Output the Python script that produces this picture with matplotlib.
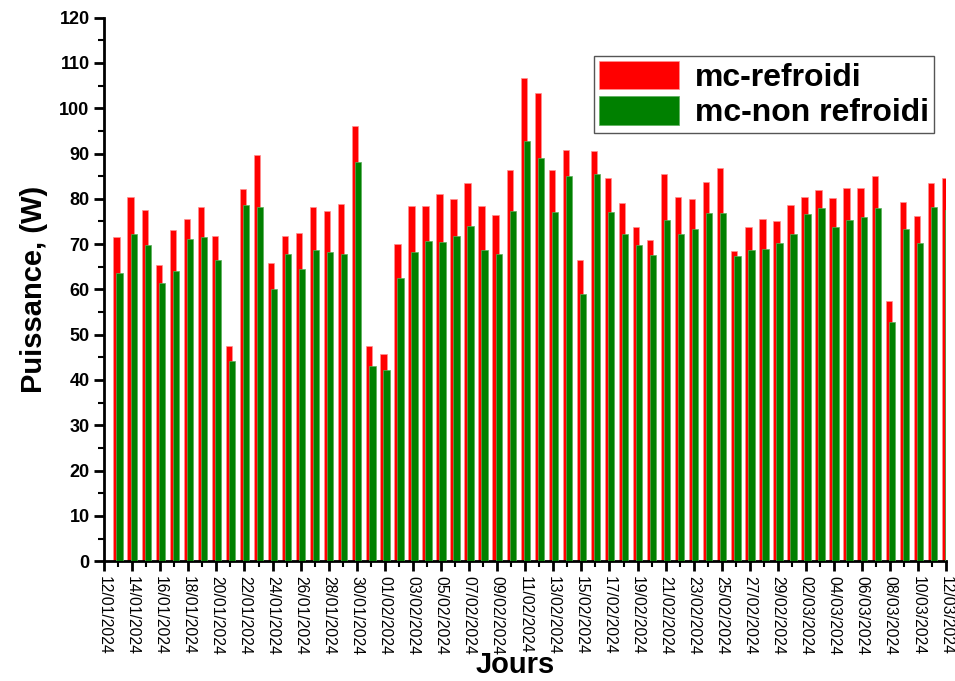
import numpy as np
import pandas as pd
import matplotlib
matplotlib.use("Agg")
import matplotlib.pyplot as plt
import matplotlib.dates as mdates
from matplotlib.ticker import MultipleLocator

plt.rcParams['font.family'] = ['Liberation Sans', 'DejaVu Sans']

# Puissance journaliere (W), du 13/01/2024 au 12/03/2024
jours = pd.date_range("2024-01-13", "2024-03-12", freq="D")
graduations = pd.date_range("2024-01-12", "2024-03-12", freq="2D")

refroidi = [71.5, 80.5, 77.6, 65.3, 73.1, 75.6, 78.1, 71.7, 47.4, 82.2,
            89.6, 65.9, 71.9, 72.4, 78.1, 77.4, 78.9, 96.0, 47.6, 45.7,
            70.0, 78.5, 78.5, 81.1, 80.0, 83.4, 78.5, 76.5, 86.3, 106.7,
            103.4, 86.3, 90.7, 66.4, 90.5, 84.6, 79.1, 73.8, 70.9, 85.4,
            80.3, 79.9, 83.8, 86.9, 68.5, 73.7, 75.6, 75.2, 78.6, 80.3,
            82.0, 80.1, 82.4, 82.3, 85.1, 57.5, 79.4, 76.3, 83.5, 84.6]

non_refroidi = [63.7, 72.3, 69.7, 61.4, 64.1, 71.2, 71.6, 66.5, 44.1, 78.7,
                78.3, 60.2, 67.9, 64.4, 68.8, 68.2, 67.9, 88.2, 43.0, 42.1,
                62.5, 68.2, 70.7, 70.5, 71.8, 74.0, 68.7, 67.9, 77.3, 92.8,
                89.1, 77.0, 85.0, 59.1, 85.5, 77.1, 72.3, 69.8, 67.6, 75.4,
                72.2, 73.3, 76.8, 76.9, 67.4, 68.7, 69.0, 70.3, 72.2, 76.7,
                77.9, 73.8, 75.3, 75.9, 77.9, 52.9, 73.4, 70.2, 78.2, 77.6]

fig = plt.figure(figsize=(9.55, 6.81), dpi=100)
ax = fig.add_axes([0.109, 0.176, 0.882, 0.798])

decal = pd.Timedelta(hours=2.6)
ax.bar(jours - decal, refroidi, width=0.45, color='red', edgecolor='#ff9090',
       linewidth=0.5, label='mc-refroidi', zorder=2)
ax.bar(jours + decal, non_refroidi, width=0.45, color='green', edgecolor='#5cae5c',
       linewidth=0.5, label='mc-non refroidi', zorder=3)

ax.set_xlim(pd.Timestamp("2024-01-12"), pd.Timestamp("2024-03-12"))
ax.set_ylim(0, 120)

ax.set_xticks(graduations)
ax.xaxis.set_minor_locator(mdates.DayLocator())
ax.xaxis.set_major_formatter(mdates.DateFormatter('%d/%m/%Y'))
ax.yaxis.set_major_locator(MultipleLocator(10))
ax.yaxis.set_minor_locator(MultipleLocator(5))

for s in ['top', 'right']:
    ax.spines[s].set_visible(False)
for s in ['left', 'bottom']:
    ax.spines[s].set_linewidth(2)

ax.tick_params(which='major', direction='out', length=7, width=2, labelsize=13)
ax.tick_params(which='minor', direction='out', length=4, width=1.5)
ax.tick_params(axis='x', labelsize=11.3, labelrotation=270, pad=4)
for lab in ax.get_yticklabels():
    lab.set_fontweight('bold')

ax.set_ylabel("Puissance, (W)", fontsize=21, fontweight='bold', labelpad=8)
ax.set_xlabel("Jours", fontsize=21, fontweight='bold', va='bottom')
ax.xaxis.set_label_coords(0.488, -0.216)

leg = ax.legend(loc='upper right', bbox_to_anchor=(0.985, 0.93),
                prop={'weight': 'bold', 'size': 23}, fancybox=False,
                edgecolor='#555555', framealpha=1, handlelength=2.5,
                handleheight=1.0, labelspacing=0.1, borderpad=0.15,
                handletextpad=0.5, borderaxespad=0)
leg.get_frame().set_linewidth(1)

fig.savefig("out.png", dpi=100)
